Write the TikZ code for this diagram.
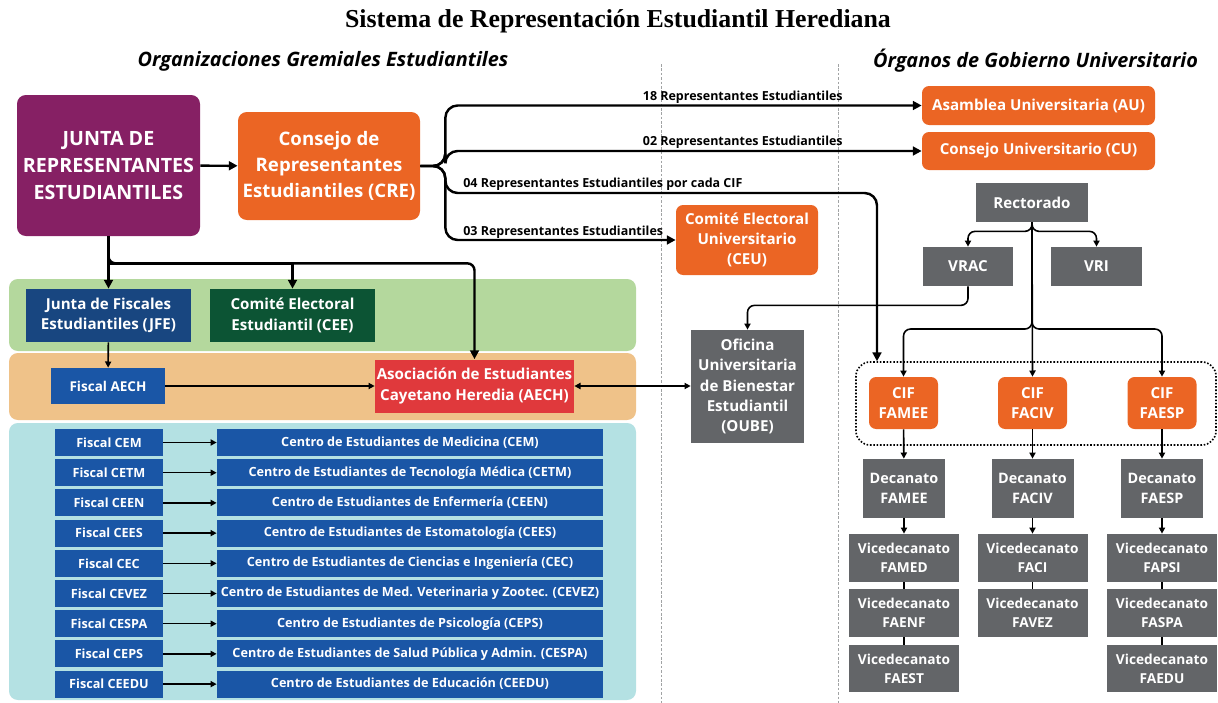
\documentclass[tikz,border=0pt]{standalone}
\usepackage{fontspec}
\setmainfont{Open Sans}
\newfontfamily\titlefont{Liberation Serif}
\usetikzlibrary{arrows.meta}

\definecolor{jurpurple}{RGB}{134,32,100}
\definecolor{creorange}{RGB}{235,101,36}
\definecolor{ugray}{RGB}{99,101,104}
\definecolor{jfeblue}{RGB}{24,70,128}
\definecolor{ceegreen}{RGB}{12,84,52}
\definecolor{fblue}{RGB}{26,86,166}
\definecolor{aechred}{RGB}{224,57,60}
\definecolor{bandgreen}{RGB}{180,216,157}
\definecolor{bandorange}{RGB}{239,194,137}
\definecolor{bandblue}{RGB}{180,225,227}

\tikzset{
  sz/.style 2 args={minimum width=#1*0.02cm, minimum height=#2*0.02cm},
  box/.style={inner sep=0pt, align=center, text=white,
    font=\bfseries\fontsize{8.6}{11.6}\selectfont},
  orangebox/.style={box, fill=creorange, rounded corners=4pt},
  graybox/.style={box, fill=ugray},
  vicebox/.style={graybox, font=\bfseries\fontsize{7.8}{10.8}\selectfont},
  fiscalbox/.style={box, fill=fblue, font=\bfseries\fontsize{7.2}{9}\selectfont},
  band/.style={inner sep=0pt, rounded corners=5pt},
  link/.style={line width=1.4pt, -{Triangle[length=5pt,width=5pt]}},
  thinlink/.style={line width=0.9pt, -{Triangle[length=3.5pt,width=3.5pt]}},
  lbl/.style={inner sep=0pt, font=\bfseries\fontsize{7.1}{9}\selectfont},
  heading/.style={inner sep=0pt, font=\bfseries\itshape\fontsize{11.3}{13}\selectfont},
}

\begin{document}
\begin{tikzpicture}[x=0.02cm, y=-0.02cm]
	\useasboundingbox (0,0) rectangle (1218,703);
	% title and headings
	\node[inner sep=0pt, font=\titlefont\bfseries\fontsize{14.7}{17}\selectfont] (title) at (618,21) {Sistema de Representación Estudiantil Herediana};
	\node[heading] (hleft) at (323,61) {Organizaciones Gremiales Estudiantiles};
	\node[heading] (hright) at (1035.5,61) {Órganos de Gobierno Universitario};
	% separators
	\draw[ugray!60, line width=0.5pt, dash pattern=on 1.5pt off 1pt] (661,64) -- (661,703);
	\draw[ugray!60, line width=0.5pt, dash pattern=on 1.5pt off 1pt] (838,64) -- (838,703);
	% bands
	\node[band, fill=bandgreen, sz={627}{72}] (bgreen) at (322.5,315) {};
	\node[band, fill=bandorange, sz={627}{67}] (borange) at (322.5,386.5) {};
	\node[band, fill=bandblue, sz={627}{277}] (bblue) at (322.5,561.5) {};

	% left side
	\node[box, fill=jurpurple, rounded corners=5pt, sz={183}{141}, font=\bfseries\fontsize{11.2}{15.6}\selectfont] (junta) at (108.5,165.5) {JUNTA DE\\REPRESENTANTES\\ESTUDIANTILES};
	\node[orangebox, rounded corners=5pt, sz={182}{108}, font=\bfseries\fontsize{10.6}{14.7}\selectfont] (cre) at (329,166) {Consejo de\\Representantes\\Estudiantiles (CRE)};
	\node[box, fill=jfeblue, sz={165}{53}] (jfe) at (108.5,315.5) {Junta de Fiscales\\Estudiantiles (JFE)};
	\node[box, fill=ceegreen, sz={165}{53}] (cee) at (292.5,315.5) {Comité Electoral\\Estudiantil (CEE)};
	\node[box, fill=fblue, sz={114}{36}, font=\bfseries\fontsize{7.7}{9}\selectfont] (fisaech) at (108,386) {Fiscal AECH};
	\node[box, fill=aechred, sz={199}{53}] (aech) at (474.5,386) {Asociación de Estudiantes\\Cayetano Heredia (AECH)};

	\foreach \fis/\cen [count=\i from 0] in {
		{Fiscal CEM}/{Centro de Estudiantes de Medicina (CEM)},
		{Fiscal CETM}/{Centro de Estudiantes de Tecnología Médica (CETM)},
		{Fiscal CEEN}/{Centro de Estudiantes de Enfermería (CEEN)},
		{Fiscal CEES}/{Centro de Estudiantes de Estomatología (CEES)},
		{Fiscal CEC}/{Centro de Estudiantes de Ciencias e Ingeniería (CEC)},
		{Fiscal CEVEZ}/{Centro de Estudiantes de Med. Veterinaria y Zootec. (CEVEZ)},
		{Fiscal CESPA}/{Centro de Estudiantes de Psicología (CEPS)},
		{Fiscal CEPS}/{Centro de Estudiantes de Salud Pública y Admin. (CESPA)},
		{Fiscal CEEDU}/{Centro de Estudiantes de Educación (CEEDU)}} {
		\node[fiscalbox, sz={108}{27}] (fis\i) at (109,{442.5+30.2*\i}) {\fis};
		\node[fiscalbox, sz={386}{27}] (cen\i) at (410,{442.5+30.2*\i}) {\cen};
		\draw[thinlink] (fis\i) -- (cen\i);
	}

	% middle
	\node[orangebox, sz={233}{39}] (au) at (1038.5,105.5) {Asamblea Universitaria (AU)};
	\node[orangebox, sz={233}{38}] (cu) at (1038.5,151) {Consejo Universitario (CU)};
	\node[orangebox, sz={142}{70}] (ceu) at (747,240) {Comité Electoral\\Universitario\\(CEU)};
	\node[graybox, sz={113}{113}] (oube) at (747.5,386.5) {Oficina\\Universitaria\\de Bienestar\\Estudiantil\\(OUBE)};

	% right side
	\node[graybox, sz={112}{39}] (rect) at (1032,202.5) {Rectorado};
	\node[graybox, sz={90}{39}] (vrac) at (968,266.5) {VRAC};
	\node[graybox, sz={91}{39}] (vri) at (1096.5,266.5) {VRI};
	\node[draw, densely dotted, line width=0.9pt, rounded corners=8pt, sz={360}{83}] (cifgroup) at (1036,403.5) {};
	\node[orangebox, sz={69}{52}] (cif1) at (903.5,403) {CIF\\FAMEE};
	\node[orangebox, sz={69}{52}] (cif2) at (1032.5,403) {CIF\\FACIV};
	\node[orangebox, sz={69}{52}] (cif3) at (1162,403) {CIF\\FAESP};
	\node[graybox, sz={82}{59}, font=\bfseries\fontsize{8.2}{11.4}\selectfont] (dec1) at (904,488.5) {Decanato\\FAMEE};
	\node[graybox, sz={82}{59}, font=\bfseries\fontsize{8.2}{11.4}\selectfont] (dec2) at (1032.5,488.5) {Decanato\\FACIV};
	\node[graybox, sz={82}{59}, font=\bfseries\fontsize{8.2}{11.4}\selectfont] (dec3) at (1162,488.5) {Decanato\\FAESP};
	\node[vicebox, sz={110}{48}] (famed) at (904,558) {Vicedecanato\\FAMED};
	\node[vicebox, sz={110}{48}] (faenf) at (904,613) {Vicedecanato\\FAENF};
	\node[vicebox, sz={110}{47}] (faest) at (904,668.5) {Vicedecanato\\FAEST};
	\node[vicebox, sz={110}{48}] (faci) at (1032.5,558) {Vicedecanato\\FACI};
	\node[vicebox, sz={110}{48}] (favez) at (1032.5,613) {Vicedecanato\\FAVEZ};
	\node[vicebox, sz={110}{48}] (fapsi) at (1162,558) {Vicedecanato\\FAPSI};
	\node[vicebox, sz={110}{48}] (faspa) at (1162,613) {Vicedecanato\\FASPA};
	\node[vicebox, sz={110}{47}] (faedu) at (1162,668.5) {Vicedecanato\\FAEDU};

	% connectors from JUNTA and CRE
	\draw[link] (junta) -- (cre);
	\draw[link] (junta.south) -- (jfe.north);
	\draw[link] (junta.south) -- ++(0,27) -| (cee.north);
	\draw[link, rounded corners=4pt] (junta.south) -- ++(0,27) -| (aech.north);
	\draw[thinlink] (jfe) -- (fisaech);
	\draw[thinlink] (fisaech) -- (aech);
	\draw[thinlink, {Triangle[length=3.5pt,width=3.5pt]}-{Triangle[length=3.5pt,width=3.5pt]}] (aech.east) -- (aech.east -| oube.west);

	\coordinate (b04) at (877,193);
	\draw[link, rounded corners=7pt] (cre.east) -- ++(25,0) |- (au.west);
	\draw[link, rounded corners=7pt] (cre.east) -- ++(25,0) |- (cu.west);
	\draw[link, rounded corners=7pt] (cre.east) -- ++(25,0) |- (b04) -- (b04 |- cifgroup.north);
	\draw[link, rounded corners=7pt] (cre.east) -- ++(25,0) |- (ceu.west);
	\node[lbl, anchor=base east] (l18) at (843,100) {18 Representantes Estudiantiles};
	\node[lbl, anchor=base east] (l02) at (843,145) {02 Representantes Estudiantiles};
	\node[lbl, anchor=base west] (l04) at (463,187) {04 Representantes Estudiantiles por cada CIF};
	\node[lbl, anchor=base west] (l03) at (463,235) {03 Representantes Estudiantiles};

	% government side
	\coordinate (rb) at (1032,329);
	\draw[thinlink, rounded corners=4pt] (rect.south) -- ++(0,9) -| (vrac.north);
	\draw[thinlink, rounded corners=4pt] (rect.south) -- ++(0,9) -| (vri.north);
	\draw[thinlink, rounded corners=4pt] (vrac.south) -- ++(0,19) -| (oube.north);
	\draw[thinlink, rounded corners=4pt] (rect.south) -- (rb) -| (cif1.north);
	\draw[thinlink] (rect.south) -- (cif2.north);
	\draw[thinlink, rounded corners=4pt] (rect.south) -- (rb) -| (cif3.north);
	\draw[thinlink] (cif1) -- (dec1);
	\draw[thinlink] (cif2) -- (dec2);
	\draw[thinlink] (cif3) -- (dec3);
	\draw[thinlink] (dec1) -- (famed);
	\draw[thinlink] (dec2) -- (faci);
	\draw[thinlink] (dec3) -- (fapsi);
	\draw[line width=0.9pt] (famed) -- (faenf) (faenf) -- (faest);
	\draw[line width=0.9pt] (faci) -- (favez);
	\draw[line width=0.9pt] (fapsi) -- (faspa) (faspa) -- (faedu);
\end{tikzpicture}
\end{document}
